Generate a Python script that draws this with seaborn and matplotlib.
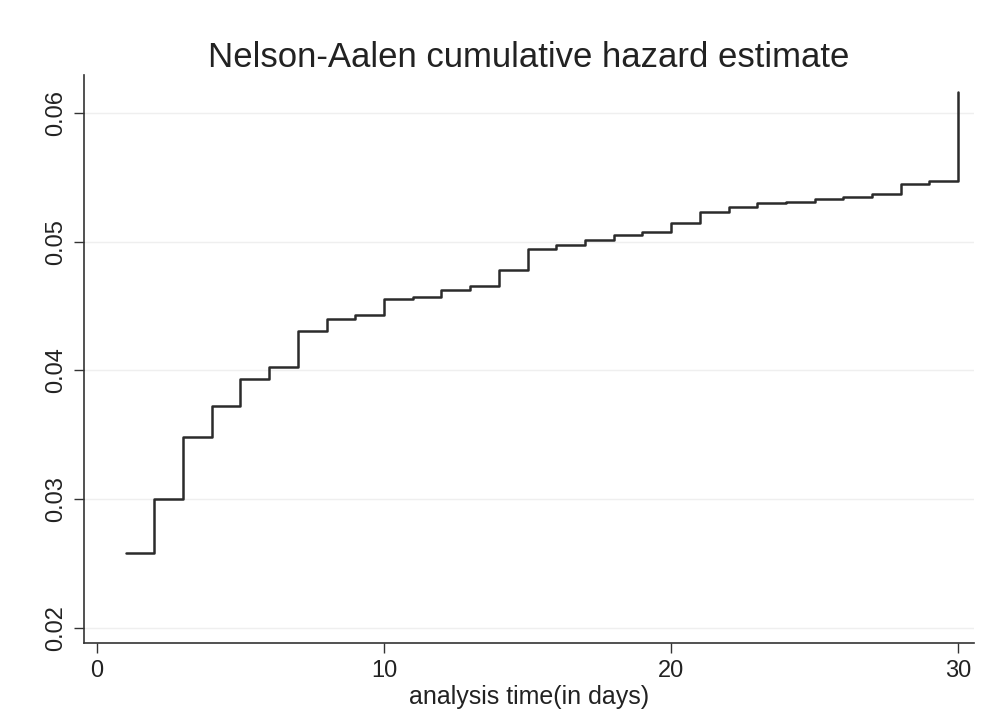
import matplotlib
matplotlib.use("Agg")
import matplotlib.pyplot as plt
import seaborn as sns
import pandas as pd

# Analysis time (days) at which the estimate changes
days = [1, 2, 3, 4, 5, 6, 7, 8, 9, 10,
        11, 12, 13, 14, 15, 16, 17, 18, 19, 20,
        21, 22, 23, 24, 25, 26, 27, 28, 29, 30]

# Nelson-Aalen cumulative hazard at each time
cum_hazard = [0.02583, 0.03002, 0.03483, 0.03724, 0.03934, 0.04027, 0.04307, 0.04400, 0.04431, 0.04555,
              0.04568, 0.04625, 0.04659, 0.04781, 0.04944, 0.04975, 0.05014, 0.05052, 0.05073, 0.05143,
              0.05233, 0.05272, 0.05299, 0.05311, 0.05332, 0.05345, 0.05368, 0.05446, 0.05472, 0.06163]

x_ticks = [0, 10, 20, 30]
y_ticks = [0.02, 0.03, 0.04, 0.05, 0.06]
y_tick_labels = ["0.02", "0.03", "0.04", "0.05", "0.06"]

title_text = "Nelson-Aalen cumulative hazard estimate"
x_label = "analysis time(in days)"

df = pd.DataFrame({"time": days, "hazard": cum_hazard})

sns.set_theme(style="white")
plt.rcParams["font.family"] = ["Liberation Sans", "DejaVu Sans"]

fig = plt.figure(figsize=(9.91, 7.19), dpi=100)
ax = fig.add_axes([0.0848, 0.1057, 0.898, 0.790])

text_col = "#222222"
axis_col = "#333333"

# faint horizontal grid at the y ticks
for yv in y_ticks:
    ax.axhline(yv, color="#efefef", lw=1.0, zorder=0)

sns.lineplot(data=df, x="time", y="hazard", drawstyle="steps-post",
             color="#2b2b2b", linewidth=1.8, ax=ax, zorder=3)

ax.set_xlim(-0.45, 30.55)
ax.set_ylim(0.01883, 0.06295)

ax.set_xticks(x_ticks)
ax.set_xticklabels([str(t) for t in x_ticks], fontsize=17, color=text_col)
ax.set_yticks(y_ticks)
ax.set_yticklabels(y_tick_labels, fontsize=17, color=text_col,
                   rotation=90, va="center")

ax.tick_params(axis="both", which="major", direction="out", length=7.5,
               width=1.0, color=axis_col, left=True, bottom=True, pad=5)

for side in ["top", "right"]:
    ax.spines[side].set_visible(False)
for side in ["left", "bottom"]:
    ax.spines[side].set_color(axis_col)
    ax.spines[side].set_linewidth(1.2)

ax.set_xlabel(x_label, fontsize=18, color=text_col, labelpad=2)
ax.set_ylabel("")
ax.set_title(title_text, fontsize=25, color=text_col, pad=6)

fig.patch.set_facecolor("white")
ax.set_facecolor("white")

fig.savefig("out.png", dpi=100, facecolor="white")
